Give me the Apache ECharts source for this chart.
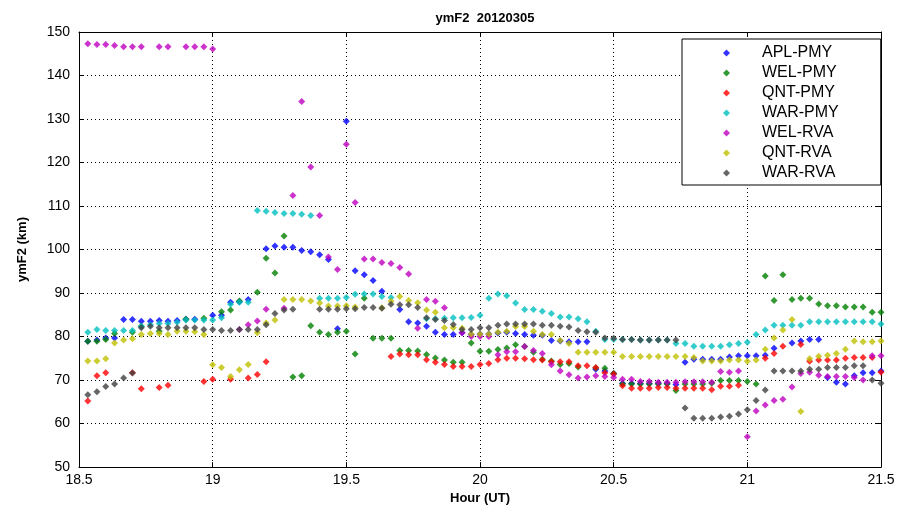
<!DOCTYPE html>
<html>
<head>
<meta charset="utf-8">
<script src="https://cdn.jsdelivr.net/npm/echarts@6/dist/echarts.min.js"></script>
<style>html,body{margin:0;padding:0;background:#fff}#c{width:902px;height:510px}</style>
</head>
<body>
<div id="c"></div>
<script>
// Sample times (UT hours), shared by all series
const hours = [18.533,18.567,18.6,18.633,18.667,18.7,18.733,18.767,18.8,18.833,18.867,18.9,18.933,18.967,19.0,
19.033,19.067,19.1,19.133,19.167,19.2,19.233,19.267,19.3,19.333,19.367,19.4,19.433,19.467,19.5,
19.533,19.567,19.6,19.633,19.667,19.7,19.733,19.767,19.8,19.833,19.867,19.9,19.933,19.967,20.0,
20.033,20.067,20.1,20.133,20.167,20.2,20.233,20.267,20.3,20.333,20.367,20.4,20.433,20.467,20.5,
20.533,20.567,20.6,20.633,20.667,20.7,20.733,20.767,20.8,20.833,20.867,20.9,20.933,20.967,21.0,
21.033,21.067,21.1,21.133,21.167,21.2,21.233,21.267,21.3,21.333,21.367,21.4,21.433,21.467,21.5];

const seriesNames = ['APL-PMY','WEL-PMY','QNT-PMY','WAR-PMY','WEL-RVA','QNT-RVA','WAR-RVA'];

const aplPmy = [78.9,79.2,79.7,79.7,83.9,83.9,83.5,83.5,83.7,83.5,83.7,84.0,84.0,null,84.9,
84.9,87.9,88.0,88.5,null,100.2,100.8,100.5,100.5,99.8,99.5,98.8,97.7,81.8,129.5,
95.1,94.2,92.9,90.4,null,86.2,83.4,83.1,82.4,81.0,80.5,80.5,80.9,80.5,80.6,
80.6,80.8,81.0,80.7,80.5,80.3,80.3,79.1,79.0,78.8,78.8,78.8,72.5,72.1,71.5,
69.3,69.3,69.2,69.2,69.2,69.2,69.0,74.1,74.8,74.8,74.8,74.8,75.3,75.6,75.6,
75.6,75.7,77.3,null,78.5,79.0,79.3,79.3,70.6,69.5,69.1,71.0,71.7,71.7,72.1];

const welPmy = [78.9,78.9,79.3,80.7,null,81.0,82.4,null,81.2,null,null,84.0,null,84.2,null,
85.7,86.1,88.2,null,90.2,98.0,94.6,103.1,70.7,71.0,82.5,81.0,80.5,81.0,81.2,
76.0,88.8,79.6,79.6,79.6,76.8,76.8,76.7,75.9,75.1,74.6,74.1,74.1,78.5,76.6,
76.6,77.0,77.4,78.1,77.7,76.4,74.8,74.4,73.6,73.8,73.0,null,72.8,72.7,71.5,
69.1,69.1,69.1,69.1,69.1,69.1,67.6,69.1,69.1,69.1,69.3,69.9,69.9,69.9,69.7,
69.1,93.9,88.3,94.2,88.5,88.8,88.8,87.5,87.1,87.1,86.8,86.8,86.8,85.6,85.6];

const qntPmy = [65.2,71.0,71.7,null,null,71.7,68.0,null,68.3,68.8,null,null,null,69.7,70.2,
null,70.2,null,70.5,71.3,74.2,null,null,null,null,null,null,null,null,null,
null,null,null,null,75.4,76.0,75.8,75.8,74.7,74.1,73.6,73.1,73.1,73.1,73.6,
73.8,74.7,75.0,75.0,74.9,74.7,74.6,74.2,74.2,74.2,73.3,73.3,72.9,71.7,71.4,
68.7,68.1,68.1,68.1,68.3,68.3,68.1,68.1,68.1,68.1,67.8,68.6,68.6,68.8,null,
null,75.0,76.1,77.8,null,78.2,74.3,74.6,74.6,74.6,75.0,75.2,75.2,75.2,71.8];

const warPmy = [81.0,81.6,81.4,81.4,81.4,81.4,82.4,82.7,83.0,83.0,83.3,83.8,83.8,83.8,83.8,
84.3,87.4,87.9,87.9,109.0,108.8,108.5,108.3,108.3,108.1,107.8,88.8,88.8,88.8,89.0,
89.7,89.8,89.8,89.2,89.0,null,null,null,84.1,84.1,84.2,84.3,84.3,84.4,84.9,
88.8,89.8,89.4,87.7,86.2,86.2,85.8,85.3,84.5,84.5,84.1,83.4,81.2,79.3,79.3,
79.3,79.3,79.2,79.2,79.2,79.2,78.4,78.4,77.8,77.8,77.8,77.8,78.1,78.4,78.7,
80.5,81.5,82.6,82.6,82.6,82.6,83.4,83.4,83.4,83.4,83.4,83.4,83.4,83.4,82.9];

const welRva = [147.3,147.1,147.1,146.9,146.6,146.6,146.6,null,146.6,146.6,null,146.6,146.6,146.6,146.1,
null,null,81.6,82.7,83.6,86.3,null,86.5,112.4,134.0,119.0,107.8,98.3,95.4,124.2,
110.8,97.8,97.8,97.0,96.8,95.9,94.4,81.9,88.5,88.1,86.6,null,80.9,80.0,80.0,
80.0,75.8,76.5,76.5,77.7,76.8,76.1,73.5,72.1,71.2,70.5,70.7,71.0,70.8,70.6,
70.2,70.2,69.7,69.7,69.5,69.5,69.5,69.6,69.6,69.6,69.5,72.0,71.8,72.1,57.0,
62.9,64.3,65.3,65.6,68.4,71.5,71.8,71.1,70.8,70.8,70.8,70.6,70.0,75.6,75.6];

const qntRva = [74.4,74.4,74.9,78.5,79.2,79.5,80.5,80.7,80.7,80.5,81.2,81.2,81.1,80.5,73.5,
72.9,70.8,72.4,73.6,80.9,83.1,83.8,88.5,88.5,88.5,88.2,87.7,87.0,87.0,87.1,
86.8,null,null,86.6,88.1,89.2,88.3,87.8,86.1,85.6,82.0,82.0,81.9,80.6,80.6,
80.6,81.0,81.2,82.3,82.3,81.2,80.5,80.5,79.1,78.4,76.4,76.4,76.4,76.4,76.4,
75.4,75.4,75.4,75.4,75.4,75.4,75.4,75.4,75.2,74.4,74.4,74.4,74.6,74.6,74.3,
74.6,77.1,79.7,81.5,83.9,62.8,74.9,75.5,75.7,76.1,77.1,79.0,78.8,78.8,79.0];

const warRva = [66.6,67.3,68.5,69.1,70.5,71.6,82.0,82.4,82.0,82.0,82.0,82.0,82.0,81.6,81.6,
81.4,81.4,81.6,81.6,81.6,82.7,85.3,86.1,86.3,null,null,86.3,86.3,86.3,86.4,
86.4,86.7,86.7,86.5,87.4,87.3,87.3,86.7,84.3,83.9,83.7,82.8,81.6,81.6,82.0,
82.0,82.6,82.9,82.9,82.9,82.9,82.6,82.6,82.4,82.2,81.4,81.1,81.0,79.7,79.6,
79.3,79.3,79.2,79.2,79.2,79.2,79.2,63.6,61.2,61.2,61.2,61.5,61.7,62.2,63.2,
65.3,67.7,72.1,72.1,72.1,72.1,72.5,72.5,72.9,72.9,72.9,73.3,73.3,70.0,69.3];

const xTicks = [18.5,19,19.5,20,20.5,21,21.5];
const yTicks = [50,60,70,80,90,100,110,120,130,140,150];

const seriesValues = [aplPmy, welPmy, qntPmy, warPmy, welRva, qntRva, warRva];
const colors = ['#0000ff','#008000','#ff0000','#00bfbf','#bf00bf','#bfbf00','#404040'];

function pairs(vals){
  const out = [];
  for (let i = 0; i < hours.length; i++) if (vals[i] != null) out.push([hours[i], vals[i]]);
  return out;
}

const FONT = 'Liberation Sans';
const chart = echarts.init(document.getElementById('c'), null, {renderer:'canvas'});
const dotted = {color:'#000', width:1, type:[1,3]};
const axisCommon = {
  type:'value', min:xTicks[0], max:xTicks[xTicks.length-1], interval:0.5,
  axisLine:{show:true, onZero:false, lineStyle:{color:'#000', width:1}},
  axisTick:{show:true, inside:true, length:5, lineStyle:{color:'#000'}},
};
chart.setOption({
  animation:false,
  backgroundColor:'#fff',
  color: colors,
  title:{text:'ymF2  20120305', left:480, textAlign:'center', top:7,
    textStyle:{fontFamily:FONT, fontSize:13, fontWeight:'bold', color:'#000'}},
  grid:{left:79, right:21, top:32, bottom:40, show:false},
  legend:{
    orient:'vertical', left:682, top:39,
    padding:[6,42,4,41], itemGap:4, itemWidth:7, itemHeight:7,
    icon:'diamond',
    backgroundColor:'#fff', borderColor:'#000', borderWidth:1,
    textStyle:{fontFamily:FONT, fontSize:16, color:'#000', lineHeight:16, padding:[0,0,0,27]},
    data: seriesNames
  },
  xAxis:[
    Object.assign({}, axisCommon, {
      position:'bottom',
      name:'Hour (UT)', nameLocation:'middle', nameGap:23,
      nameTextStyle:{fontFamily:FONT, fontSize:13, fontWeight:'bold', color:'#000'},
      axisLabel:{show:true, margin:6, color:'#000', fontFamily:FONT, fontSize:14},
      splitLine:{show:true, lineStyle:dotted}
    }),
    Object.assign({}, axisCommon, {
      position:'top', axisLabel:{show:false}, splitLine:{show:false}
    })
  ],
  yAxis:[
    {type:'value', min:yTicks[0], max:yTicks[yTicks.length-1], interval:10, position:'left',
      name:'ymF2 (km)', nameLocation:'middle', nameGap:50, nameRotate:90,
      nameTextStyle:{fontFamily:FONT, fontSize:13, fontWeight:'bold', color:'#000'},
      axisLine:{show:true, onZero:false, lineStyle:{color:'#000', width:1}},
      axisTick:{show:true, inside:true, length:5, lineStyle:{color:'#000'}},
      axisLabel:{show:true, margin:9, color:'#000', fontFamily:FONT, fontSize:14},
      splitLine:{show:true, lineStyle:dotted}},
    {type:'value', min:yTicks[0], max:yTicks[yTicks.length-1], interval:10, position:'right',
      axisLine:{show:true, onZero:false, lineStyle:{color:'#000', width:1}},
      axisTick:{show:true, inside:true, length:5, lineStyle:{color:'#000'}},
      axisLabel:{show:false}, splitLine:{show:false}}
  ],
  series: seriesNames.map((n, i) => ({
    name:n, type:'scatter', xAxisIndex:0, yAxisIndex:0,
    symbol:'diamond', symbolSize:7,
    itemStyle:{color:colors[i]},
    data: pairs(seriesValues[i])
  }))
});
</script>
</body>
</html>
